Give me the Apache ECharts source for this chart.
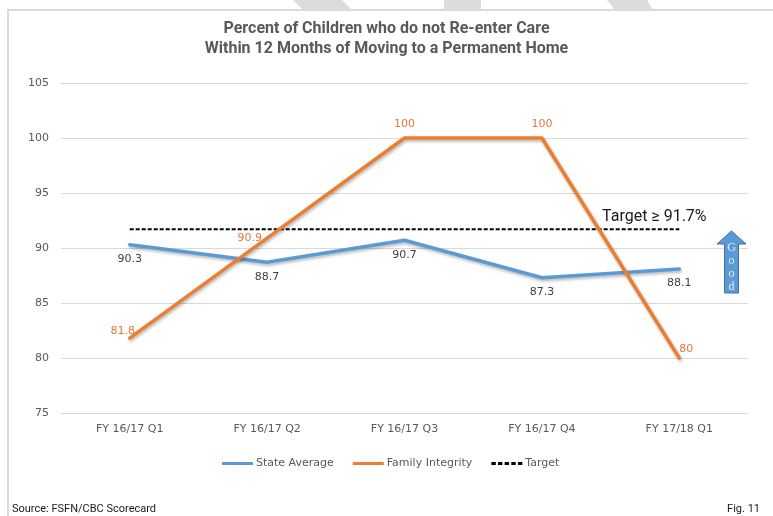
<!DOCTYPE html>
<html>
<head>
<meta charset="utf-8">
<script src="https://cdn.jsdelivr.net/npm/echarts@6/dist/echarts.min.js"></script>
<style>
  html, body { margin: 0; padding: 0; background: #fff; }
  #chart { width: 773px; height: 516px; }
</style>
</head>
<body>
<div id="chart"></div>
<script>
// Quarterly reporting periods
const quarters = ['FY 16/17 Q1', 'FY 16/17 Q2', 'FY 16/17 Q3', 'FY 16/17 Q4', 'FY 17/18 Q1'];
// Percent of children not re-entering care within 12 months
const stateAverage = [90.3, 88.7, 90.7, 87.3, 88.1];
const familyIntegrity = [81.8, 90.9, 100, 100, 80];
const target = [91.7, 91.7, 91.7, 91.7, 91.7];
const yTicks = { min: 75, max: 105, step: 5 };

const titleLines = ['Percent of Children who do not Re-enter Care', 'Within 12 Months of Moving to a Permanent Home'];
const targetText = 'Target \u2265 91.7%';
const sourceText = 'Source: FSFN/CBC Scorecard';
const figText = 'Fig. 11';

const BLUE = '#5B9BD5';
const ORANGE = '#ED7D31';
const ORANGE_TEXT = '#E2793A';
const GREY_TEXT = '#595959';
const DARK_TEXT = '#404040';
const BODY_FONT = 'DejaVu Sans';
const HEAD_FONT = 'Roboto';

const chart = echarts.init(document.getElementById('chart'), null, { renderer: 'canvas' });

// Per-point label placement for the Family Integrity series
const famLabelPos = [
  { position: 'top', offset: [-7, 3] },
  { position: 'left', distance: 5, offset: [0, 0] },
  { position: 'top', distance: 8, offset: [0, 0] },
  { position: 'top', distance: 8, offset: [0, 0] },
  { position: 'top', offset: [7, 2] }
];

const lineShadow = { shadowColor: 'rgba(0,0,0,0.28)', shadowBlur: 3, shadowOffsetX: 1, shadowOffsetY: 2 };

// Legend swatches: solid bars and a dashed bar
const solidIcon = 'path://M0,0h31v3h-31z';
const dashedIcon = 'path://M0,0h4v3h-4zM6,0h4v3h-4zM12,0h4v3h-4zM18,0h4v3h-4zM24,0h4v3h-4z';

const option = {
  backgroundColor: '#fff',
  animation: false,
  textStyle: { fontFamily: BODY_FONT },
  grid: { left: 61, right: 25, top: 83, bottom: 103, containLabel: false },
  title: {
    text: titleLines.join('\n'),
    left: 'center',
    top: 14,
    textStyle: { fontFamily: HEAD_FONT, fontSize: 16, fontWeight: 'bold', color: GREY_TEXT, lineHeight: 20 }
  },
  legend: {
    left: 217,
    top: 453,
    itemWidth: 31,
    itemHeight: 3,
    itemGap: 19,
    symbolKeepAspect: false,
    textStyle: { fontFamily: BODY_FONT, fontSize: 11, color: GREY_TEXT, padding: [0, 0, 0, -2] },
    data: [
      { name: 'State Average', icon: solidIcon },
      { name: 'Family Integrity', icon: solidIcon },
      { name: 'Target', icon: dashedIcon }
    ]
  },
  xAxis: {
    type: 'category',
    data: quarters,
    boundaryGap: true,
    axisLine: { lineStyle: { color: '#d9d9d9', width: 1 } },
    axisTick: { show: false },
    axisLabel: { color: GREY_TEXT, fontFamily: BODY_FONT, fontSize: 11, margin: 11 }
  },
  yAxis: {
    type: 'value',
    min: yTicks.min,
    max: yTicks.max,
    interval: yTicks.step,
    axisLine: { show: false },
    axisTick: { show: false },
    axisLabel: { color: GREY_TEXT, fontFamily: BODY_FONT, fontSize: 11, margin: 12 },
    splitLine: { lineStyle: { color: '#d9d9d9', width: 1 } }
  },
  series: [
    {
      name: 'Target',
      type: 'line',
      data: target.map((v, i) => i === target.length - 1 ? {
        value: v,
        label: {
          show: true,
          formatter: targetText,
          position: 'top',
          distance: 4,
          offset: [-25, 0],
          fontFamily: HEAD_FONT,
          fontSize: 16,
          color: '#1a1a1a'
        }
      } : v),
      symbol: 'circle',
      symbolSize: 0,
      z: 3,
      lineStyle: { color: '#000', width: 2, type: [4, 2] },
      itemStyle: { color: '#000' }
    },
    {
      name: 'State Average',
      type: 'line',
      data: stateAverage,
      symbol: 'circle',
      symbolSize: 0,
      z: 4,
      lineStyle: Object.assign({ color: BLUE, width: 3.5, cap: 'round' }, lineShadow),
      itemStyle: { color: BLUE },
      label: { show: true, position: 'bottom', distance: 9, color: DARK_TEXT, fontFamily: BODY_FONT, fontSize: 11 }
    },
    {
      name: 'Family Integrity',
      type: 'line',
      data: familyIntegrity.map((v, i) => ({ value: v, label: famLabelPos[i] })),
      symbol: 'circle',
      symbolSize: 0,
      z: 5,
      lineStyle: Object.assign({ color: ORANGE, width: 3.5, cap: 'round' }, lineShadow),
      itemStyle: { color: ORANGE },
      label: { show: true, color: ORANGE_TEXT, fontFamily: BODY_FONT, fontSize: 11 }
    }
  ],
  graphic: [
    // chart frame
    { type: 'rect', shape: { x: 8, y: 10, width: 900, height: 700 }, style: { fill: 'none', stroke: '#dadada', lineWidth: 2 }, z: -1, silent: true },
    // diagonal tabs above the frame
    { type: 'polygon', shape: { points: [[293, 0], [342, 0], [352, 10], [303, 10]] }, style: { fill: '#dcdcdc' }, silent: true },
    { type: 'polygon', shape: { points: [[444, 0], [481, 0], [481, 10], [444, 10]] }, style: { fill: '#dcdcdc' }, silent: true },
    { type: 'polygon', shape: { points: [[607, 0], [647, 0], [653, 10], [615, 10]] }, style: { fill: '#dcdcdc' }, silent: true },
    // "Good" direction arrow
    {
      type: 'polygon',
      shape: { points: [[731.5, 231], [746, 244], [738.5, 244], [738.5, 293], [724.5, 293], [724.5, 244], [717, 244]] },
      style: { fill: BLUE, stroke: '#41719C', lineWidth: 1 },
      z: 10, silent: true
    },
    {
      type: 'text',
      style: { text: 'G\no\no\nd', x: 731.5, y: 241, align: 'center', verticalAlign: 'top', fill: '#e3ecf7', font: '12px "Liberation Serif", serif', lineHeight: 13 },
      z: 11, silent: true
    },
    // footer
    { type: 'text', style: { text: sourceText, x: 12, y: 509, verticalAlign: 'middle', fill: '#1a1a1a', font: '11px Roboto, sans-serif' }, silent: true },
    { type: 'text', style: { text: figText, x: 760, y: 509, align: 'right', verticalAlign: 'middle', fill: '#1a1a1a', font: '11px Roboto, sans-serif' }, silent: true }
  ]
};

chart.setOption(option);
</script>
</body>
</html>
